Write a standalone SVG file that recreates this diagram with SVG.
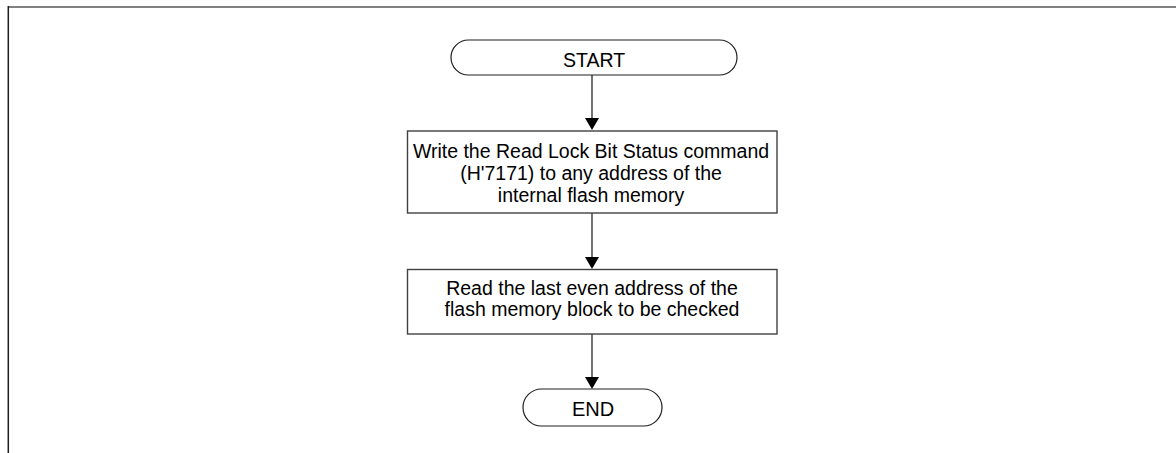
<svg xmlns="http://www.w3.org/2000/svg" width="1176" height="453" viewBox="0 0 1176 453">
<style>
.t{font-family:"Liberation Sans",Arial,sans-serif;fill:#000;text-anchor:middle}
.bt{font-size:19.5px}
.box{fill:#fff;stroke:#404040;stroke-width:1.4}
.pill{fill:#fff;stroke:#202020;stroke-width:1.2}
.conn{stroke:#000;stroke-width:1.1;fill:none}
.head{fill:#000}
</style>
<rect width="1176" height="453" fill="#fff"/>
<g id="frame">
<line x1="8" y1="7" x2="1176" y2="7" stroke="#808080" stroke-width="2"/>
<line x1="8.3" y1="6" x2="8.3" y2="453" stroke="#202020" stroke-width="1.5"/>
</g>
<g id="connectors">
<path class="conn" d="M592,75 V118"/>
<path class="head" d="M585,118 L599,118 L592,130 Z"/>
<path class="conn" d="M592,213 V257"/>
<path class="head" d="M585,257 L599,257 L592,269 Z"/>
<path class="conn" d="M592,334 V377"/>
<path class="head" d="M585,377 L599,377 L592,389 Z"/>
</g>
<g id="start">
<rect class="pill" x="451" y="40" width="286" height="35" rx="17.5" ry="17.5"/>
<text class="t" x="594" y="67" font-size="19.5">START</text>
</g>
<g id="write">
<rect class="box" x="407.5" y="131" width="369.5" height="82"/>
<text class="t bt" x="591" y="158">Write the Read Lock Bit Status command</text>
<text class="t bt" x="591" y="180">(H'7171) to any address of the</text>
<text class="t bt" x="591" y="201.5">internal flash memory</text>
</g>
<g id="read">
<rect class="box" x="407.5" y="269.5" width="369.5" height="64.5"/>
<text class="t bt" x="592" y="295">Read the last even address of the</text>
<text class="t bt" x="592" y="316">flash memory block to be checked</text>
</g>
<g id="end">
<rect class="pill" x="523" y="389" width="139" height="37" rx="18.5" ry="18.5"/>
<text class="t" x="593" y="416" font-size="20">END</text>
</g>
</svg>
